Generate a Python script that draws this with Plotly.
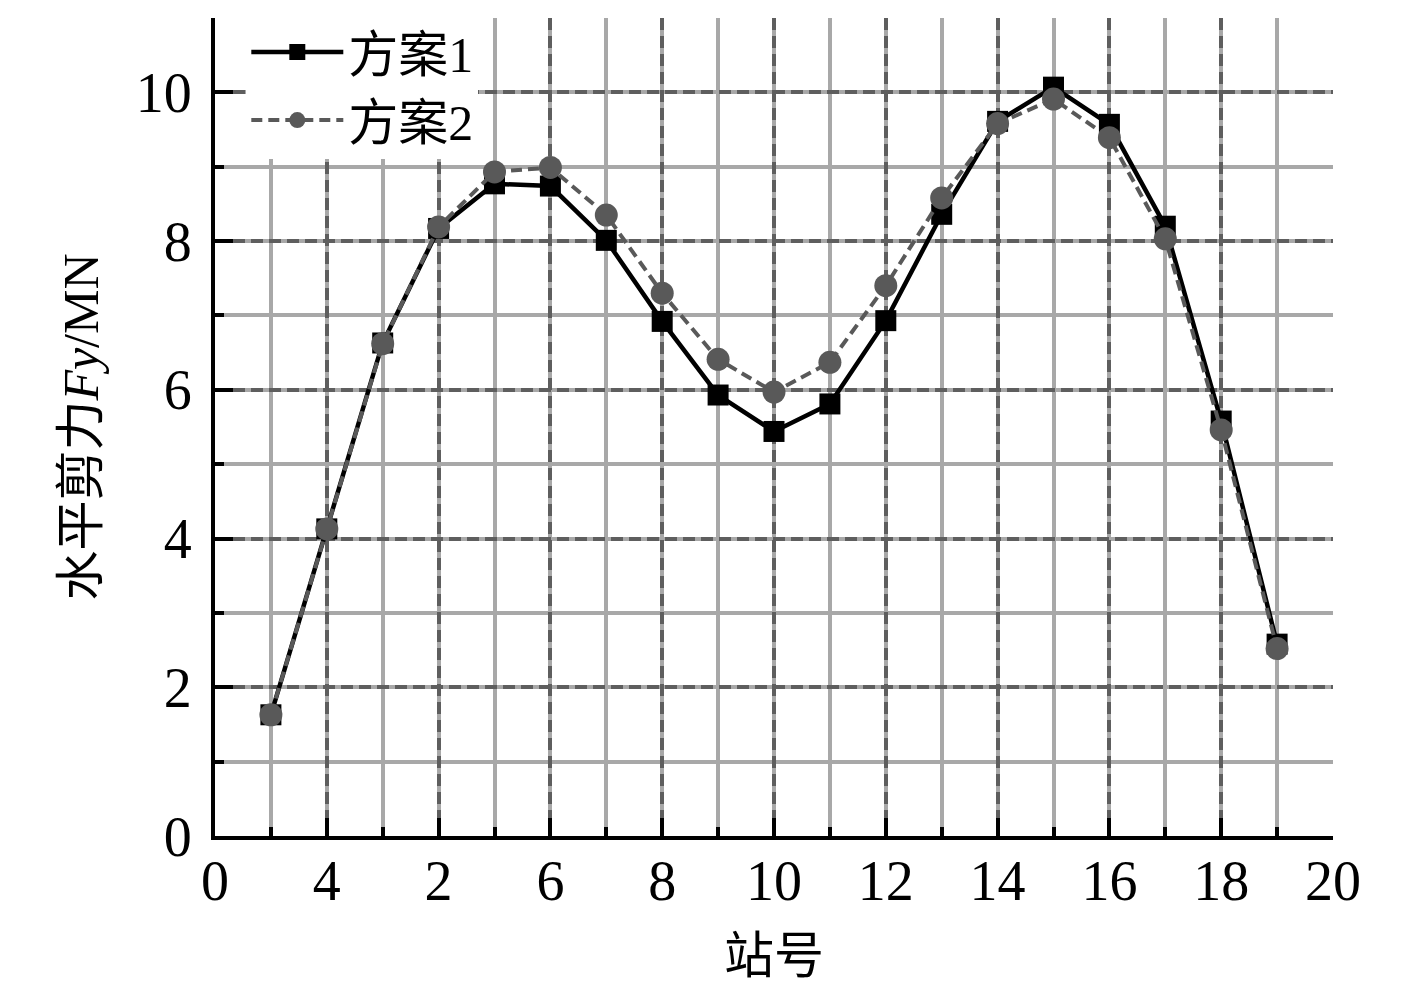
import plotly.graph_objects as go

stations = list(range(1, 20))
scheme1 = [1.63, 4.13, 6.63, 8.17, 8.77, 8.74, 8.01, 6.92, 5.93, 5.44, 5.81, 6.93,
           8.36, 9.61, 10.07, 9.57, 8.20, 5.58, 2.58]
scheme2 = [1.63, 4.13, 6.62, 8.19, 8.93, 8.99, 8.35, 7.30, 6.41, 5.97, 6.37, 7.40,
           8.58, 9.58, 9.91, 9.39, 8.03, 5.46, 2.52]

x_tickvals = [0, 2, 4, 6, 8, 10, 12, 14, 16, 18, 20]
x_ticktext = ["0", "4", "2", "6", "8", "10", "12", "14", "16", "18", "20"]
y_tickvals = [0, 2, 4, 6, 8, 10]
y_ticktext = ["0", "2", "4", "6", "8", "10"]

FONT = "Liberation Serif, Times New Roman, Noto Sans CJK SC, serif"

fig = go.Figure()
fig.add_trace(go.Scatter(
    x=stations, y=scheme1, name="方案1", mode="lines+markers",
    line=dict(color="black", width=4.5),
    marker=dict(symbol="square", size=21, color="black"),
))
fig.add_trace(go.Scatter(
    x=stations, y=scheme2, name="方案2", mode="lines+markers",
    line=dict(color="#595959", width=4, dash="11px,6px"),
    marker=dict(symbol="circle", size=23, color="#595959"),
))

axis_common = dict(
    showline=True, linecolor="black", linewidth=4,
    ticks="inside", ticklen=18, tickwidth=4, tickcolor="black",
    showgrid=True, gridcolor="#5e5e5e", gridwidth=3.5, griddash="12px,6px",
    zeroline=False, mirror=False, automargin=False,
    tickfont=dict(family=FONT, size=56, color="black"),
)

fig.update_xaxes(
    range=[0, 20], tickmode="array", tickvals=x_tickvals, ticktext=x_ticktext,
    minor=dict(dtick=1, ticks="inside", ticklen=9, tickwidth=4, tickcolor="black",
               showgrid=True, gridcolor="#a8a8a8", gridwidth=3.5, griddash="solid"),
    title=dict(text="站号", font=dict(family=FONT, size=50, color="black"), standoff=28),
    ticklabelstandoff=-7,
    **axis_common,
)
fig.update_yaxes(
    range=[0, 11], tickmode="array", tickvals=y_tickvals, ticktext=y_ticktext,
    minor=dict(dtick=1, tick0=0, ticks="inside", ticklen=9, tickwidth=4, tickcolor="black",
               showgrid=True, gridcolor="#a8a8a8", gridwidth=3.5, griddash="solid"),
    title=dict(text="水平剪力<i>Fy</i>/MN", font=dict(family=FONT, size=50, color="black"), standoff=22),
    ticklabelstandoff=8,
    **axis_common,
)

fig.update_layout(
    width=1417, height=992,
    margin=dict(l=207, r=92, t=5, b=164),
    plot_bgcolor="white", paper_bgcolor="white",
    font=dict(family=FONT, color="black"),
    legend=dict(
        x=0.028, y=1.006, xanchor="left", yanchor="top",
        bgcolor="white", borderwidth=0,
        font=dict(family=FONT, size=50, color="black"),
        itemwidth=92, tracegroupgap=0,
    ),
)

fig.write_html("out.html")
